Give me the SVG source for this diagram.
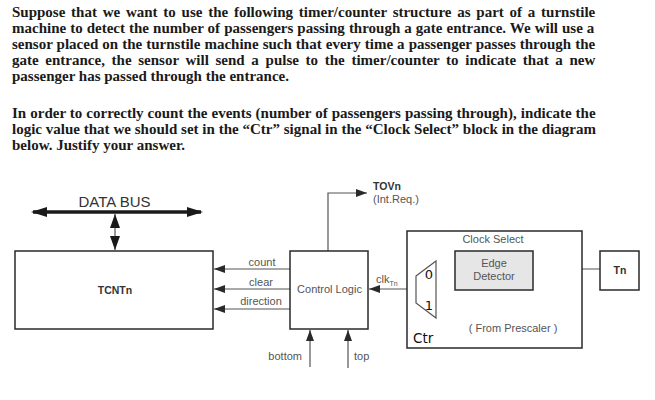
<svg xmlns="http://www.w3.org/2000/svg" width="655" height="400" viewBox="0 0 655 400">
<defs>
<style>
.q{font-family:"Liberation Serif","Times New Roman",serif;font-weight:bold;font-size:15px;fill:#1a1a1a}
.lbl{font-family:"Liberation Sans",Arial,sans-serif;font-size:11px;fill:#555}
.bold{font-family:"Liberation Sans",Arial,sans-serif;font-size:10.5px;font-weight:bold;fill:#333}
.dv{font-family:"DejaVu Sans",sans-serif;fill:#111}
.box{fill:#fff;stroke:#2a2a2a;stroke-width:1.5}
.ln{fill:none;stroke:#555;stroke-width:1.2}
</style>
<marker id="ah" markerWidth="11" markerHeight="8" refX="11" refY="4" orient="auto" markerUnits="userSpaceOnUse"><path d="M0,0 L11,4 L0,8 z" fill="#2a2a2a"/></marker>
<marker id="bus" markerWidth="16" markerHeight="10" refX="16" refY="5" orient="auto-start-reverse" markerUnits="userSpaceOnUse"><path d="M0,0 L16,5 L0,10 z" fill="#1a1a1a"/></marker>
<marker id="vb" markerWidth="14" markerHeight="10" refX="14" refY="5" orient="auto-start-reverse" markerUnits="userSpaceOnUse"><path d="M0,0 L14,5 L0,10 z" fill="#1a1a1a"/></marker>
</defs>
<rect width="655" height="400" fill="#fff"/>
<g id="question">
<text class="q" x="12" y="17" word-spacing="2.0">Suppose that we want to use the following timer/counter structure as part of a turnstile</text>
<text class="q" x="12" y="33" word-spacing="0.27">machine to detect the number of passengers passing through a gate entrance. We will use a</text>
<text class="q" x="12" y="49" word-spacing="0.29">sensor placed on the turnstile machine such that every time a passenger passes through the</text>
<text class="q" x="12" y="65" word-spacing="2.93">gate entrance, the sensor will send a pulse to the timer/counter to indicate that a new</text>
<text class="q" x="12" y="81">passenger has passed through the entrance.</text>
<text class="q" x="12" y="118" word-spacing="0.3">In order to correctly count the events (number of passengers passing through), indicate the</text>
<text class="q" x="12" y="134" word-spacing="0.06">logic value that we should set in the “Ctr” signal in the “Clock Select” block in the diagram</text>
<text class="q" x="12" y="150">below. Justify your answer.</text>
</g>
<g id="connectors">
<line x1="33" y1="212" x2="201" y2="212" stroke="#1a1a1a" stroke-width="3.5"/>
<line x1="31" y1="212" x2="203" y2="212" stroke="none" marker-start="url(#bus)" marker-end="url(#bus)"/>
<line x1="115" y1="214" x2="115" y2="250" class="ln" marker-start="url(#vb)" marker-end="url(#vb)"/>
<line x1="290" y1="269" x2="214" y2="269" class="ln" marker-end="url(#ah)"/>
<line x1="290" y1="289" x2="214" y2="289" class="ln" marker-end="url(#ah)"/>
<line x1="290" y1="309" x2="214" y2="309" class="ln" marker-end="url(#ah)"/>
<polyline points="328,251 328,193 367,193" class="ln" marker-end="url(#ah)"/>
<line x1="310" y1="367" x2="310" y2="330" class="ln" marker-end="url(#ah)"/>
<line x1="348" y1="368" x2="348" y2="330" class="ln" marker-end="url(#ah)"/>
<line x1="416" y1="289" x2="369" y2="289" class="ln" marker-end="url(#ah)"/>
<line x1="600" y1="269" x2="534" y2="269" class="ln" marker-end="url(#ah)"/>
<line x1="455" y1="269" x2="437" y2="269" class="ln" marker-end="url(#ah)"/>
<polyline points="514,318 514,308 437,308" class="ln" marker-end="url(#ah)"/>
<line x1="425" y1="337" x2="425" y2="310" class="ln" marker-end="url(#ah)"/>
</g>
<g id="data-bus">
<text x="114.5" y="207" text-anchor="middle" font-family="Liberation Sans, Arial, sans-serif" font-size="15" fill="#333">DATA BUS</text>
</g>
<g id="tcntn">
<rect class="box" x="15" y="251" width="198" height="78"/>
<text class="bold" x="115" y="294" text-anchor="middle">TCNTn</text>
</g>
<g id="signal-labels">
<text class="lbl" x="262" y="266" text-anchor="middle">count</text>
<text class="lbl" x="261" y="286" text-anchor="middle">clear</text>
<text class="lbl" x="261" y="305" text-anchor="middle">direction</text>
<text class="bold" x="373" y="190">TOVn</text>
<text class="lbl" x="373" y="203">(Int.Req.)</text>
<text class="lbl" x="302" y="360" text-anchor="end">bottom</text>
<text class="lbl" x="354" y="360">top</text>
<text class="lbl" x="376" y="283">clk<tspan font-size="7" dy="3">Tn</tspan></text>
</g>
<g id="control-logic">
<rect class="box" x="290" y="251" width="78" height="78"/>
<text class="lbl" x="329.5" y="293" text-anchor="middle">Control Logic</text>
</g>
<g id="clock-select">
<rect class="box" x="407" y="231" width="175" height="117"/>
<text class="lbl" x="493" y="243" text-anchor="middle" font-size="10.5">Clock Select</text>
<text class="lbl" x="513" y="332" text-anchor="middle" font-size="10.5">( From Prescaler )</text>
</g>
<g id="edge-detector">
<rect x="455" y="251" width="78" height="39" fill="#e6e6e6" stroke="#2a2a2a" stroke-width="1.5"/>
<text class="lbl" x="494" y="267" text-anchor="middle">Edge</text>
<text class="lbl" x="494" y="280" text-anchor="middle">Detector</text>
</g>
<g id="mux">
<polygon points="416,276 436,261 436,318 416,303" fill="#fff" stroke="#555" stroke-width="1.2"/>
<text class="dv" x="429" y="279" text-anchor="middle" font-size="13">0</text>
<text class="dv" x="429" y="310" text-anchor="middle" font-size="13">1</text>
<text class="dv" x="413" y="343" font-size="13.5">Ctr</text>
</g>
<g id="tn">
<rect class="box" x="600" y="251" width="39" height="39"/>
<text class="bold" x="620" y="274" text-anchor="middle">Tn</text>
</g>
</svg>
